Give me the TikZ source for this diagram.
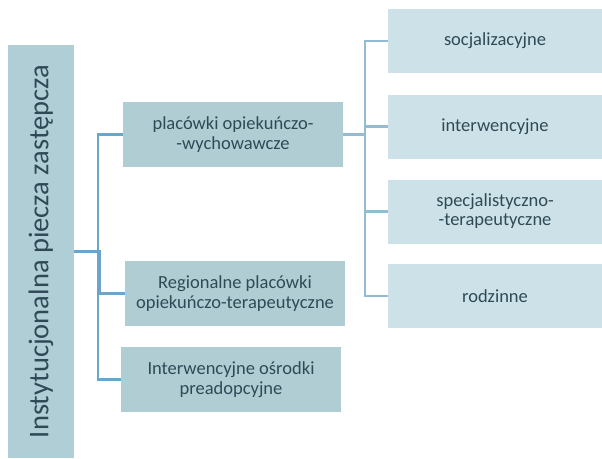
\documentclass[tikz,border=0pt]{standalone}
\usepackage{fontspec}
\setmainfont{Carlito}
\usepackage{graphicx}
\definecolor{rootfill}{HTML}{B0CEd5}
\definecolor{midfill}{HTML}{B0CDD4}
\definecolor{leaffill}{HTML}{CDE2E8}
\definecolor{lineleft}{HTML}{6BA5C9}
\definecolor{lineright}{HTML}{93BBD4}
\definecolor{boxtext}{HTML}{2F4A56}
\tikzset{
  midbox/.style={fill=midfill,text=boxtext,font=\fontsize{18.5}{19.5}\selectfont,align=center,minimum width=220pt,minimum height=65pt,inner sep=0pt},
  leafbox/.style={fill=leaffill,text=boxtext,font=\fontsize{18.5}{19}\selectfont,align=center,minimum width=214pt,minimum height=64pt,inner sep=0pt},
  branch/.style={lineleft,line width=2.5pt},
  subbranch/.style={lineright,line width=2.3pt}
}
\begin{document}
\begin{tikzpicture}[x=1pt,y=-1pt]
\useasboundingbox (0,0) rectangle (602,458);
% main box
\node[fill=rootfill,text=boxtext,minimum width=66pt,minimum height=413pt,inner sep=0pt,font=\fontsize{28.5}{32}\selectfont] (root) at (41,251.5) {\rotatebox{90}{Instytucjonalna piecza zastępcza}};
% second level
\node[midbox] (wych) at (233,134.5) {placówki opiekuńczo-\\-wychowawcze};
\node[midbox] (terap) at (235,293.5) {Regionalne placówki\\opiekuńczo-terapeutyczne};
\node[midbox] (preadop) at (231,379.5) {Interwencyjne ośrodki\\preadopcyjne};
% third level
\node[leafbox] (soc) at (495,41) {socjalizacyjne};
\node[leafbox] (interw) at (495,126.5) {interwencyjne};
\node[leafbox] (spec) at (495,211.5) {specjalistyczno-\\-terapeutyczne};
\node[leafbox] (rodz) at (495,296) {rodzinne};
% connectors
\draw[branch] (root.east) -- ++(24,0) |- (wych.west);
\draw[branch] (root.east) -- ++(26,0) |- (terap.west);
\draw[branch] (root.east) -- ++(24,0) |- (preadop.west);
\foreach \n in {soc,interw,spec,rodz}
  \draw[subbranch] (wych.east) -- ++(22,0) |- (\n.west);
\end{tikzpicture}
\end{document}
